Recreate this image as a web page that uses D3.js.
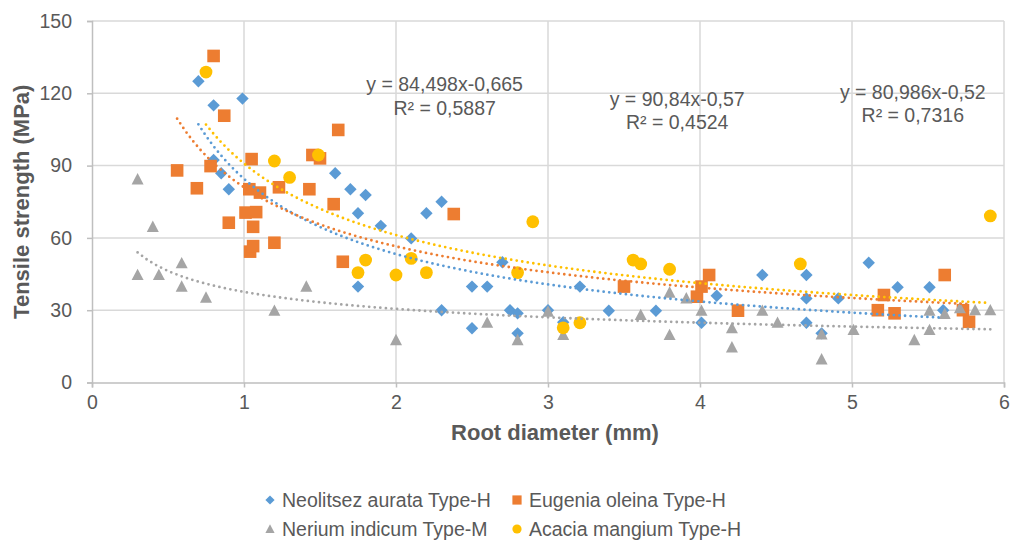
<!DOCTYPE html>
<html lang="en">
<head>
  <meta charset="UTF-8">
  <title>tensile strength</title>
  <script src="https://d3js.org/d3.v7.min.js" charset="utf-8"></script>
  <style>
    body { margin: 0; background: #fff; }
    text { font-family: "Liberation Sans", Arial, sans-serif; fill: #595959; }
  </style>
</head>
<body>
</body>
<script>
  // data: [diameter mm, strength MPa]
  var neolitsez = [[0.70,125],[0.80,115],[0.99,117.8],[0.80,92.3],[0.85,86.8],[0.90,80.2],
    [1.60,86.8],[1.70,80.2],[1.80,77.8],[1.75,70.2],[1.90,65],[2.10,59.8],[2.30,75],[2.20,70.2],
    [1.75,39.8],[2.50,39.8],[2.60,39.8],[2.30,30],[2.50,22.5],[2.70,49.9],[2.75,30],[2.80,28.7],
    [2.80,20.4],[3.00,30],[3.10,25],[3.21,39.8],[3.40,29.8],[3.71,29.8],[4.11,36],[4.01,24.8],
    [4.41,44.6],[4.70,44.6],[4.70,34.9],[4.70,24.8],[4.91,34.9],[4.80,20.4],[5.11,49.7],
    [5.30,39.5],[5.51,39.5],[5.60,30]]
  var eugenia = [[0.56,88],[0.69,80.6],[0.78,89.8],[0.80,135.5],[0.87,110.7],[0.90,66.3],
    [1.01,70.5],[1.035,80.2],[1.04,54.3],[1.05,92.7],[1.06,64.6],[1.06,56.6],[1.08,70.7],
    [1.105,78.8],[1.20,58],[1.23,81],[1.43,80.2],[1.45,94.4],[1.50,93],[1.59,74],[1.62,104.8],
    [1.65,50.1],[2.38,69.9],[3.50,39.8],[3.98,35.6],[4.01,39.8],[4.06,44.6],[4.25,29.8],
    [5.17,30],[5.21,36.3],[5.28,28.7],[5.61,44.6],[5.73,30],[5.77,25.2]]
  var nerium = [[0.30,84.3],[0.40,64.6],[0.30,44.6],[0.44,44.6],[0.59,49.5],[0.59,39.8],
    [0.75,35.2],[1.20,29.8],[1.41,39.8],[2.00,17.6],[2.60,24.8],[2.80,17.6],[3.00,29.4],
    [3.10,19.7],[3.61,28],[3.80,37.3],[3.80,19.7],[3.91,34.9],[4.01,29.8],[4.21,22.5],
    [4.21,14.6],[4.41,29.8],[4.51,24.8],[4.80,20],[4.80,9.6],[5.01,21.8],[5.41,17.6],
    [5.51,21.8],[5.51,29.8],[5.61,28.5],[5.71,30.8],[5.81,30],[5.91,30]]
  var acacia = [[0.75,128.8],[1.20,91.9],[1.30,85.1],[1.49,94.4],[1.80,50.8],[1.75,45.6],
    [2.00,44.6],[2.10,51.5],[2.20,45.6],[2.90,66.7],[2.80,45.6],[3.10,22.7],[3.21,24.8],
    [3.56,50.8],[3.61,49.2],[3.80,47],[4.66,49.2],[5.91,69.1]]

  var seriesNames = ['Neolitsez aurata Type-H', 'Eugenia oleina Type-H', 'Nerium indicum Type-M', 'Acacia mangium Type-H']
  var seriesData = [neolitsez, eugenia, nerium, acacia]
  var seriesColors = ['#5B9BD5', '#ED7D31', '#A5A5A5', '#FFC000']
  var seriesShapes = ['diamond', 'square', 'triangle', 'circle']
  // power trendlines y = a * x^b (gray one has no printed equation, estimated)
  var trendA = [84.498, 80.986, 37.6, 90.84]
  var trendB = [-0.665, -0.52, -0.30, -0.57]

  var equationLines = [['y = 84,498x-0,665', 'R² = 0,5887'], ['y = 90,84x-0,57', 'R² = 0,4524'], ['y = 80,986x-0,52', 'R² = 0,7316']]
  var equationAt = [[2.32, 120.9], [3.85, 114.8], [5.4, 117.8]]

  var xTicks = [0, 1, 2, 3, 4, 5, 6]
  var yTicks = [0, 30, 60, 90, 120, 150]

  var width = 1010, height = 547
  var svg = d3.select('body').append('svg').attr('width', width).attr('height', height)

  var x = d3.scaleLinear().domain([0, 6]).range([92, 1004])
  var y = d3.scaleLinear().domain([0, 150]).range([382.5, 21])

  // grid
  svg.append('g').selectAll('line').data(yTicks.slice(1)).enter().append('line')
    .attr('x1', x(0)).attr('x2', x(6)).attr('y1', d => y(d)).attr('y2', d => y(d))
    .attr('stroke', '#d9d9d9').attr('stroke-width', 1.5)
  svg.append('g').selectAll('line').data(xTicks.slice(1)).enter().append('line')
    .attr('x1', d => x(d)).attr('x2', d => x(d)).attr('y1', y(0)).attr('y2', y(150))
    .attr('stroke', '#d9d9d9').attr('stroke-width', 1.5)

  // axes
  var xAxis = svg.append('g').attr('transform', 'translate(0,' + y(0) + ')')
    .call(d3.axisBottom(x).tickValues(xTicks).tickSize(5).tickPadding(8).tickFormat(d3.format('d')))
  var yAxis = svg.append('g').attr('transform', 'translate(' + x(0) + ',0)')
    .call(d3.axisLeft(y).tickValues(yTicks).tickSize(5).tickPadding(15).tickFormat(d3.format('d')))
  ;[xAxis, yAxis].forEach(function(a) {
    a.select('.domain').attr('stroke', '#bfbfbf').attr('stroke-width', 1.5)
    a.selectAll('.tick line').attr('stroke', '#bfbfbf').attr('stroke-width', 1.5)
    a.selectAll('.tick text').style('font-size', '19.5px').attr('fill', '#595959')
  })

  function marker(sel, shape, s) {
    if (shape === 'diamond') {
      sel.append('path').attr('d', 'M0,' + (-s) + 'L' + s + ',0L0,' + s + 'L' + (-s) + ',0Z')
    } else if (shape === 'square') {
      sel.append('rect').attr('x', -s).attr('y', -s).attr('width', 2 * s).attr('height', 2 * s)
    } else if (shape === 'triangle') {
      sel.append('path').attr('d', 'M0,' + (-s * 1.05) + 'L' + s + ',' + s * 0.85 + 'L' + (-s) + ',' + s * 0.85 + 'Z')
    } else {
      sel.append('circle').attr('r', s)
    }
  }
  var markerSize = [6.2, 6.3, 6, 6.4]

  seriesData.forEach(function(data, i) {
    var g = svg.append('g').attr('fill', seriesColors[i])
    g.selectAll('g').data(data).enter().append('g')
      .attr('transform', d => 'translate(' + x(d[0]) + ',' + y(d[1]) + ')')
      .each(function() { marker(d3.select(this), seriesShapes[i], markerSize[i]) })
  })

  // trendlines
  var line = d3.line().x(d => x(d[0])).y(d => y(d[1]))
  seriesData.forEach(function(data, i) {
    var ext = d3.extent(data, d => d[0])
    var pts = d3.range(0, 101).map(function(k) {
      var xv = ext[0] + (ext[1] - ext[0]) * k / 100
      return [xv, trendA[i] * Math.pow(xv, trendB[i])]
    })
    svg.append('path').attr('d', line(pts)).attr('fill', 'none')
      .attr('stroke', seriesColors[i]).attr('stroke-width', 2.8)
      .attr('stroke-linecap', 'round').attr('stroke-dasharray', '0 5.6')
  })

  // equation labels
  equationLines.forEach(function(lines, i) {
    var t = svg.append('text').attr('text-anchor', 'middle').style('font-size', '19.5px')
    lines.forEach(function(s, k) {
      t.append('tspan').attr('x', x(equationAt[i][0])).attr('y', y(equationAt[i][1]) + k * 23.5).text(s)
    })
  })

  // axis titles
  svg.append('text').attr('x', (x(0) + x(6)) / 2 + 7).attr('y', 440).attr('text-anchor', 'middle')
    .style('font-size', '22px').style('font-weight', 'bold').text('Root diameter (mm)')
  svg.append('text').attr('transform', 'translate(29,' + (y(75)) + ') rotate(-90)').attr('text-anchor', 'middle')
    .style('font-size', '22px').style('font-weight', 'bold').text('Tensile strength (MPa)')

  // legend
  var legendPos = [[270, 500], [517, 500], [270, 529], [517, 529]]
  seriesNames.forEach(function(name, i) {
    var g = svg.append('g').attr('transform', 'translate(' + legendPos[i][0] + ',' + legendPos[i][1] + ')')
    var m = g.append('g').attr('fill', seriesColors[i])
    marker(m, seriesShapes[i], 4.6)
    g.append('text').attr('x', 12).attr('y', 7).style('font-size', '19.5px').text(name)
  })
</script>
</html>
